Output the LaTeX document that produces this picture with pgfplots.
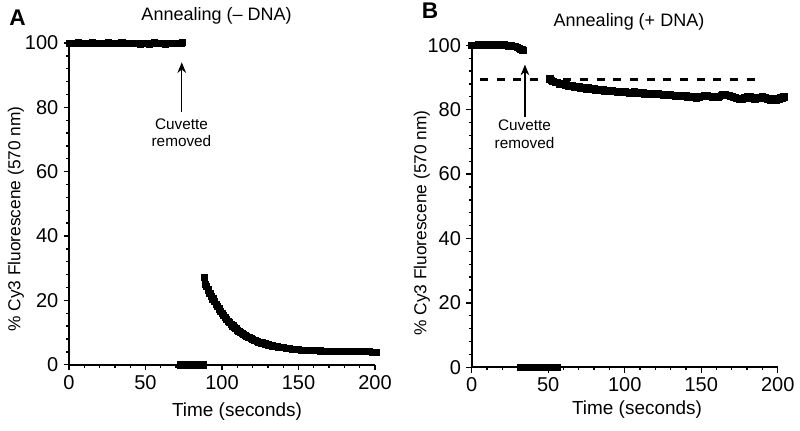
\documentclass[border=0pt]{standalone}
\usepackage{pgfplots}
\pgfplotsset{compat=1.18}
\usepackage{fontspec}
\setmainfont{Liberation Sans}
\usetikzlibrary{arrows.meta}

\pgfplotstableread{
t y
0 100
1.5 99.8
3 100
4.5 99.9
6 100.1
7.5 99.8
9 99.9
10.5 100
12 99.8
13.5 100
15 100.1
16.5 99.9
18 99.8
19.5 100
21 99.9
22.5 100
24 99.8
25.5 100.1
27 99.9
28.5 100
30 100
31.5 99.8
33 99.9
34.5 100.1
36 100
37.5 99.8
39 99.9
40.5 100
42 99.8
43.5 99.9
45 100
46.5 99.7
48 99.9
49.5 100
51 99.8
52.5 99.7
54 100
55.5 100.1
57 99.9
58.5 99.8
60 100
61.5 99.9
63 99.7
64.5 99.9
66 100
67.5 99.8
69 99.9
70.5 100
72 99.8
73.5 100
74.3 100.1
}\Ahigh

\pgfplotstableread{
t y
72.5 0
73.5 0
74.5 0
75.5 0
76.5 0
77.5 0
78.5 0
79.5 0
80.5 0
81.5 0
82.5 0
83.5 0
84.5 0
85.5 0
86.5 0
87.5 0
88 0
}\Azero

\pgfplotstableread{
t y
88.2 27.2
89.3 25.1
90 24.4
91 23.3
92 22.3
93 21.4
94 20.5
95 19.7
96 18.9
97 18.1
98 17.4
99 16.7
100 16.0
101 15.3
102 14.7
103 14.1
104 13.6
105 13.1
106 12.6
107 12.1
108 11.6
109 11.2
110 10.8
111 10.4
112 10.1
113 9.8
114 9.5
115 9.2
116 8.9
117 8.6
118 8.4
119 8.1
120 7.9
121 7.7
122 7.5
123 7.3
124 7.1
125 6.95
126 6.8
127 6.65
128 6.5
129 6.35
130 6.2
131 6.1
132 6.0
133 5.9
134 5.8
135 5.7
136 5.6
137 5.5
138 5.4
139 5.35
140 5.3
142 5.15
144 5.0
146 4.9
148 4.8
150 4.7
152 4.6
154 4.6
156 4.5
158 4.5
160 4.4
162 4.4
164 4.35
166 4.3
168 4.3
170 4.25
172 4.2
174 4.2
176 4.2
178 4.15
180 4.1
182 4.1
184 4.1
186 4.1
188 4.1
190 4.1
192 4.05
194 4.05
196 4.05
198 4.0
200.8 4.0
}\Adecay

\pgfplotstableread{
t y
0 100
1.5 100.1
3 99.9
4.5 100.2
6 100
7.5 100.3
9 100.1
10.5 100
12 100.2
13.5 100.1
15 100.4
16.5 100.2
18 100.1
19.5 99.9
21 100.2
22.5 100
24 99.8
25.5 100
27 99.7
28.5 99.6
30 99.4
31 99.2
32 98.9
33 98.6
33.7 98.4
}\Bhigh

\pgfplotstableread{
t y
31.6 0
32.6 0
33.6 0
34.6 0
35.6 0
36.6 0
37.6 0
38.6 0
39.6 0
40.6 0
41.6 0
42.6 0
43.6 0
44.6 0
45.6 0
46.6 0
47.6 0
48.6 0
49.6 0
50.6 0
51.6 0
52.6 0
53.6 0
54.6 0
55.6 0
}\Bzero

\pgfplotstableread{
t y
51 89.6
52 89.2
53 88.9
54.5 88.6
56 88.4
57 88.0
58 88.3
59 87.8
60 88.0
61 87.6
62 87.8
63 87.4
64 87.7
65 87.3
66 87.6
67 87.1
68 87.3
69 86.9
70 87.2
71 86.8
72 87.0
73 86.7
74 86.9
75 86.5
76 86.8
77 86.4
78 86.7
79 86.4
80 86.5
81 86.2
82 86.4
83 86.1
84 86.4
85 86.0
86 86.2
87 85.9
88 86.1
89 85.8
90 86.1
91 85.7
92 85.9
93 85.6
94 85.8
95 85.5
96 85.8
97 85.5
98 85.7
99 85.4
100 85.7
101 85.3
102 85.5
103 85.2
104 85.5
105 85.3
106 85.6
107 85.1
108 85.3
109 85.0
110 85.2
111 85.0
112 85.3
113 84.9
114 85.1
115 84.8
116 85.2
117 84.9
118 85.1
119 84.8
120 85.0
121 84.7
122 85.1
123 84.8
124 84.9
125 84.6
126 84.9
127 84.5
128 84.7
129 84.4
130 84.8
131 84.4
132 84.6
133 84.3
134 84.5
135 84.2
136 84.6
137 84.3
138 84.4
139 84.1
140 84.4
141 84.0
142 84.2
143 83.9
144 84.2
145 83.8
146 84.0
147 83.7
148 84.0
149 83.8
150 84.1
151 84.2
152 84.4
153 84.3
154 84.5
155 84.1
156 84.3
157 83.8
158 84.0
159 83.9
160 84.1
161 84.0
162 84.3
163 84.4
164 84.7
165 84.5
166 84.8
167 84.4
168 84.5
169 84.1
170 84.2
171 83.8
172 83.9
173 83.5
174 83.6
175 83.3
176 83.5
177 83.4
178 83.7
179 83.6
180 84.0
181 83.8
182 84.1
183 83.7
184 83.8
185 83.4
186 83.6
187 83.6
188 83.9
189 83.8
190 84.0
191 83.6
192 83.7
193 83.3
194 83.5
195 83.1
196 83.4
197 83.2
198 83.6
199 83.0
200 83.3
201 83.2
202 83.7
203 83.6
204 84.0
}\Bdecay

\pgfplotsset{
  panel/.style={
    scale only axis,
    width=229.5pt,
    xmin=0, xmax=200, ymin=0, ymax=100,
    axis x line*=bottom, axis y line*=left,
    axis line style={line width=1.3pt, -},
    tick align=outside,
    major tick length=4pt,
    minor tick length=2.2pt,
    every tick/.style={black, line width=1pt},
    xtick={0,50,100,150,200},
    ytick={0,20,40,60,80,100},
    minor x tick num=4,
    minor y tick num=4,
    /pgf/number format/assume math mode=true,
    ticklabel style={font=\fontsize{15}{17}\selectfont},
    xticklabel shift=0.5pt,
    yticklabel shift=0.5pt,
    clip=false,
  },
  dots/.style={only marks, mark=square*, mark size=2.3pt, black, mark options={draw=black, fill=black}},
}

\begin{document}
\begin{tikzpicture}
\useasboundingbox (0,0) rectangle (600pt,-323.25pt);

% ---------- Panel A ----------
\begin{axis}[panel, at={(51.75pt,-273.525pt)}, anchor=south west, height=241.275pt]
\addplot[dots] table[x=t,y=y] {\Ahigh};
\addplot[dots] table[x=t,y=y] {\Azero};
\addplot[dots] table[x=t,y=y] {\Adecay};
\draw[line width=0.9pt, -{Stealth[length=8pt,width=6.5pt]}] (axis cs:73.7,78.6) -- (axis cs:73.7,94);
\node[align=center, font=\fontsize{11.5}{13.3}\selectfont] at (axis cs:73.5,72.1) {Cuvette\\removed};
\end{axis}

% ---------- Panel B ----------
\begin{axis}[panel, at={(353.775pt,-275.475pt)}, anchor=south west, height=241.5pt]
\addplot[black, line width=2.2pt, dash pattern=on 6pt off 6.5pt] coordinates {(5.4,89.5) (190,89.5)};
\addplot[dots] table[x=t,y=y] {\Bhigh};
\addplot[dots] table[x=t,y=y] {\Bzero};
\addplot[dots] table[x=t,y=y] {\Bdecay};
\draw[line width=0.9pt, -{Stealth[length=8pt,width=6.5pt]}] (axis cs:34.8,77.8) -- (axis cs:34.8,94);
\node[align=center, font=\fontsize{11.5}{13.3}\selectfont] at (axis cs:34.5,72.4) {Cuvette\\removed};
\end{axis}

% ---------- Labels ----------
\node[font=\bfseries\fontsize{17}{19}\selectfont] at (13.1pt,-13.1pt) {A};
\node[font=\bfseries\fontsize{17}{19}\selectfont] at (322.5pt,-8.3pt) {B};
\node[font=\fontsize{13.5}{16}\selectfont] at (162.4pt,-12pt) {Annealing (– DNA)};
\node[font=\fontsize{13.5}{16}\selectfont] at (471.75pt,-16.5pt) {Annealing (+ DNA)};
\node[rotate=90, font=\fontsize{13}{15}\selectfont] at (12pt,-164.25pt) {\% Cy3 Fluorescene (570 nm)};
\node[rotate=90, font=\fontsize{13}{15}\selectfont] at (316.5pt,-167.25pt) {\% Cy3 Fluorescene (570 nm)};
\node[font=\fontsize{14.2}{16}\selectfont] at (177.75pt,-309pt) {Time (seconds)};
\node[font=\fontsize{14.2}{16}\selectfont] at (477.75pt,-307.5pt) {Time (seconds)};
\end{tikzpicture}
\end{document}
